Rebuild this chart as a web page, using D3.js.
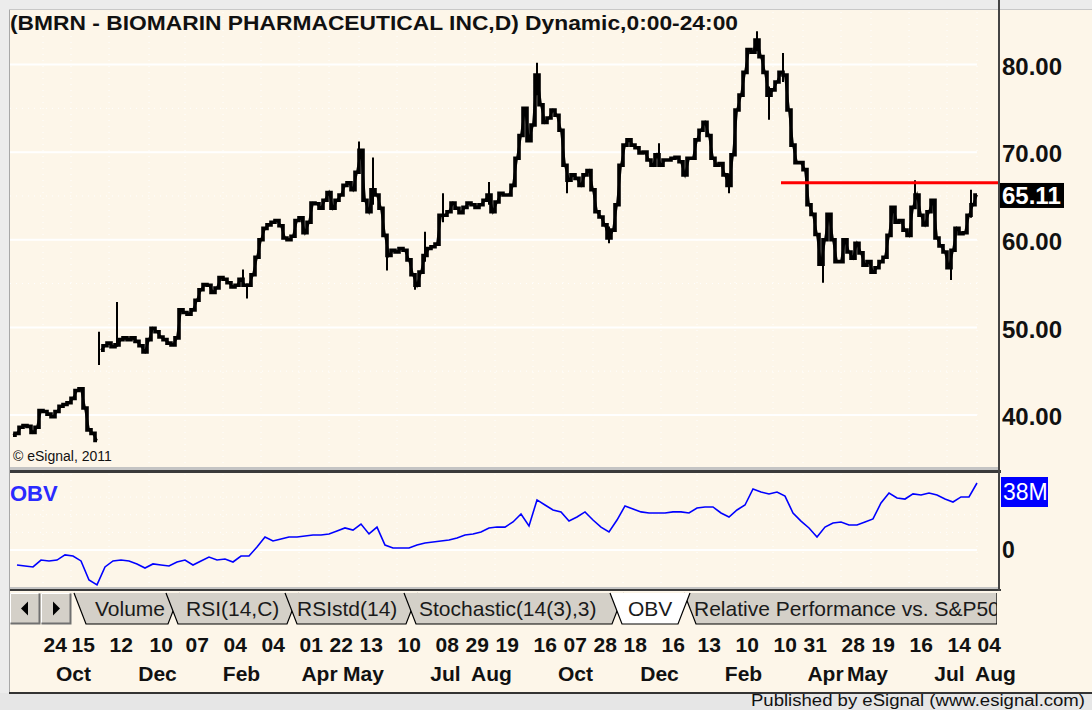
<!DOCTYPE html>
<html>
<head>
<meta charset="utf-8">
<script src="https://cdn.jsdelivr.net/npm/d3@7"></script>
<style>
html, body { margin: 0; padding: 0; background: #ececec; }
svg { display: block; font-family: "Liberation Sans", Arial, sans-serif; }
</style>
</head>
<body>
<svg id="chart" width="1092" height="710"></svg>
<script>
// ---- data ----
// closing prices, one for every second bar (bars 1,3,5 ... 483)
var priceCloses = [
  37.7, 37.9, 38.6, 38.8, 38.7, 38.0, 38.6, 40.5, 40.4, 40.1, 39.8, 40.4, 41.0, 41.2, 41.4, 41.9, 42.8, 43.0, 40.8, 38.3, 37.9, 37.1,
  47.4, 47.9, 48.2, 47.8, 48.0, 48.6, 48.8, 48.6, 48.8, 48.4, 47.9, 47.2, 48.6, 49.9, 49.5, 48.9, 48.6, 48.2, 48.0, 48.8,
  52.0, 51.7, 51.5, 52.0, 53.1, 54.3, 54.9, 54.8, 54.0, 54.5, 55.7, 55.5, 55.1, 54.6, 54.8, 55.5, 54.8, 54.8, 56.0, 58.0,
  60.0, 61.3, 61.7, 62.0, 62.2, 61.6, 60.2, 60.0, 60.4, 62.2, 62.5, 60.8, 62.0, 64.2, 64.1, 63.6, 64.5, 65.4, 63.6, 64.5,
  65.1, 66.2, 66.5, 65.7, 67.7, 70.2, 64.5, 63.2, 65.7, 65.1, 63.6, 60.5, 58.2, 58.8, 58.6, 59.0, 58.8, 57.7, 56.0, 54.8,
  56.3, 58.2, 59.0, 59.2, 59.5, 62.8, 62.8, 63.2, 64.2, 63.6, 63.1, 63.7, 64.2, 64.0, 63.7, 64.0, 64.5, 65.1, 63.2, 64.3,
  65.3, 65.1, 65.1, 66.2, 69.3, 71.9, 75.0, 71.3, 73.1, 78.8, 75.4, 73.4, 73.9, 74.8, 74.2, 72.5, 68.5, 66.8, 67.4, 67.0,
  66.2, 67.4, 67.9, 65.7, 63.2, 62.6, 61.7, 60.2, 61.1, 64.0, 68.5, 70.8, 71.4, 70.8, 70.5, 69.9, 70.0, 69.1, 68.5, 69.7,
  68.5, 69.1, 69.1, 69.3, 69.4, 68.9, 67.4, 69.3, 69.3, 71.4, 72.5, 73.4, 71.9, 69.3, 68.5, 68.7, 67.4, 66.2, 69.7, 74.8,
  76.5, 79.1, 81.7, 81.4, 82.8, 80.9, 79.1, 76.5, 77.1, 78.0, 79.1, 78.8, 74.8, 70.8, 68.8, 68.8, 68.0, 64.0, 62.9, 60.6,
  57.2, 60.0, 62.9, 60.0, 57.5, 57.5, 60.0, 58.6, 57.9, 59.6, 58.5, 57.1, 57.5, 56.3, 56.8, 57.5, 58.0, 60.5, 63.7, 62.0,
  62.2, 61.1, 60.5, 63.7, 65.1, 62.8, 61.7, 63.2, 64.5, 60.2, 59.3, 58.6, 56.8, 58.8, 61.3, 60.7, 60.8, 62.8, 64.0, 65.11
];
// single-bar ranges that stick out of the close line
var spikeBars  = [44, 53, 116, 118, 174, 181, 188, 202, 207, 216, 239, 263, 278, 299, 324, 359, 373, 379, 386, 406, 452, 470, 480];
var spikeHighs = [49.5, 52.9, 56.6, 55.0, 71.2, 69.4, 59.0, 56.0, 60.9, 65.3, 66.6, 80.2, 68.5, 61.5, 71.0, 67.5, 83.8, 77.5, 81.3, 59.0, 66.8, 57.5, 65.7];
var spikeLows  = [45.7, 47.8, 54.8, 53.3, 68.0, 64.0, 56.5, 54.3, 57.5, 62.0, 64.0, 76.5, 65.3, 59.6, 68.5, 65.3, 81.5, 73.7, 78.0, 55.1, 64.0, 55.4, 62.5];

// on balance volume in millions, one for every fourth bar (bars 3,7,11 ... 483)
var obvValues = [
  -8.5, -9.1, -9.6, -5.7, -6.2, -5.7, -2.8, -3.4, -6.2, -17.0,
  -19.8, -9.6, -6.2, -5.7, -6.2, -7.9, -10.2, -7.9, -8.5, -9.1,
  -6.8, -5.7, -8.5, -6.2, -4.0, -5.7, -5.1, -6.8, -3.4, -3.4,
  1.7, 7.4, 5.1, 6.2, 7.4, 7.4, 7.9, 8.5, 8.5, 9.1,
  10.8, 12.5, 11.3, 14.7, 9.1, 13.0, 2.8, 1.1, 1.1, 1.1,
  2.8, 4.0, 4.5, 5.1, 5.7, 6.8, 8.5, 9.1, 10.2, 12.5,
  13.0, 13.0, 15.9, 20.4, 13.6, 28.4, 25.5, 22.7, 21.6, 16.4,
  18.7, 21.6, 17.0, 13.0, 10.2, 17.0, 25.0, 23.3, 21.6, 21.0,
  21.0, 21.0, 21.6, 21.6, 21.0, 23.8, 24.4, 24.4, 21.0, 18.7,
  22.7, 25.5, 34.6, 32.9, 31.8, 32.9, 30.6, 21.0, 16.4, 12.5,
  7.4, 13.0, 15.3, 15.9, 14.2, 14.2, 15.9, 17.6, 26.7, 32.3,
  29.5, 28.9, 31.8, 31.2, 32.3, 31.2, 28.9, 27.2, 30.1, 30.1,
  38.0
];

// date axis: bar number of each weekly tick and of the mid-month names
var tickBars   = [16, 30, 49, 69, 87, 106, 125, 144, 159, 174, 193, 212, 227, 242, 261, 276, 291, 306, 325, 343, 362, 381, 396, 415, 430, 449, 468, 483];
var tickLabels = ["24", "15", "12", "10", "07", "04", "04", "01", "22", "13", "10", "08", "29", "19", "16", "07", "28", "18", "16", "13", "10", "10", "31", "28", "19", "16", "14", "04"];
var monthBars   = [31, 73, 115, 154, 176, 217, 240, 282, 324, 366, 407, 428, 469, 492];
var monthLabels = ["Oct", "Dec", "Feb", "Apr", "May", "Jul", "Aug", "Oct", "Dec", "Feb", "Apr", "May", "Jul", "Aug"];

var priceTicks = [40, 50, 60, 70, 80];
var lastPrice = 65.11;
var resistanceLevel = 66.5;
var resistanceStartBar = 385;
var obvTicks = [0];
var obvLast = 38;
var tabNames = ["Volume", "RSI(14,C)", "RSIstd(14)", "Stochastic(14(3),3)", "OBV", "Relative Performance vs. S&P500"];
var activeTab = 4;

// ---- layout ----
var svg = d3.select("#chart");
var cream = "#fdf6e9";
var axisX = 999;

var x = d3.scaleLinear().domain([0, 483]).range([11, 977]);
var yPrice = d3.scaleLinear().domain([40, 80]).range([415, 64.5]);
var yObv = d3.scaleLinear().domain([0, 38]).range([550, 483]);

// background
svg.append("rect").attr("x", 9).attr("y", 9).attr("width", 1083).attr("height", 684).attr("fill", cream);
svg.append("line").attr("x1", 9.5).attr("x2", 9.5).attr("y1", 9).attr("y2", 693).attr("stroke", "#a8a8a8");
svg.append("line").attr("x1", 9).attr("x2", 1092).attr("y1", 9.5).attr("y2", 9.5).attr("stroke", "#c8c8c8");
svg.append("rect").attr("x", 0).attr("y", 693).attr("width", 1092).attr("height", 17).attr("fill", "#e6e6e6");
svg.append("line").attr("x1", 9).attr("x2", 1092).attr("y1", 693).attr("y2", 693).attr("stroke", "#333").attr("stroke-width", 2);
svg.append("text").attr("x", 751).attr("y", 706)
  .attr("font-size", 16).attr("fill", "#111")
  .attr("textLength", 334).attr("lengthAdjust", "spacingAndGlyphs")
  .text("Published by eSignal (www.esignal.com)");

// clip paths
var defs = svg.append("defs");
defs.append("clipPath").attr("id", "clipPrice").append("rect").attr("x", 10).attr("y", 10).attr("width", axisX - 10).attr("height", 457);
defs.append("clipPath").attr("id", "clipObv").append("rect").attr("x", 10).attr("y", 473).attr("width", axisX - 10).attr("height", 114);

// ---- price pane ----
var pricePane = svg.append("g").attr("clip-path", "url(#clipPrice)");

// dotted grid
tickBars.forEach(function (b) {
  pricePane.append("line").attr("x1", x(b)).attr("x2", x(b)).attr("y1", 12).attr("y2", 466)
    .attr("stroke", "#ffffff").attr("stroke-dasharray", "1,5");
});
[45, 55, 65, 75].forEach(function (v) {
  pricePane.append("line").attr("x1", 10).attr("x2", x(483)).attr("y1", yPrice(v)).attr("y2", yPrice(v))
    .attr("stroke", "#ffffff").attr("stroke-dasharray", "1,5");
});
// solid grid
pricePane.selectAll(".hgrid").data(priceTicks).enter().append("line")
  .attr("x1", 10).attr("x2", x(483))
  .attr("y1", function (d) { return yPrice(d); }).attr("y2", function (d) { return yPrice(d); })
  .attr("stroke", "#ffffff").attr("stroke-width", 2);

// spikes
pricePane.selectAll(".spike").data(spikeBars).enter().append("line")
  .attr("x1", function (d) { return x(d); }).attr("x2", function (d) { return x(d); })
  .attr("y1", function (d, i) { return yPrice(spikeHighs[i]); })
  .attr("y2", function (d, i) { return yPrice(spikeLows[i]); })
  .attr("stroke", "#000").attr("stroke-width", 2);

// close line drawn as a blocky band, split at the gap up
var before = priceCloses.slice(0, 22), after = priceCloses.slice(22);
function closePath(startBar) {
  return d3.line()
    .x(function (d, i) { return x(startBar + 2 * i); })
    .y(function (d) { return yPrice(d); })
    .curve(d3.curveStep);
}
[[before, 1], [after, 45]].forEach(function (part) {
  pricePane.append("path").datum(part[0])
    .attr("d", closePath(part[1]))
    .attr("fill", "none").attr("stroke", "#000").attr("stroke-width", 3.6)
    .attr("stroke-linejoin", "miter");
  pricePane.append("path").datum(part[0])
    .attr("d", d3.line().x(function (d, i) { return x(part[1] + 2 * i); }).y(function (d) { return yPrice(d); }))
    .attr("fill", "none").attr("stroke", "#000").attr("stroke-width", 2);
});

// red line
pricePane.append("line")
  .attr("x1", x(resistanceStartBar)).attr("x2", axisX)
  .attr("y1", yPrice(resistanceLevel)).attr("y2", yPrice(resistanceLevel))
  .attr("stroke", "#ff0000").attr("stroke-width", 3);

// title + copyright
svg.append("text").attr("x", 10).attr("y", 30)
  .attr("font-size", 20).attr("font-weight", "bold").attr("fill", "#111")
  .attr("textLength", 728).attr("lengthAdjust", "spacingAndGlyphs")
  .text("(BMRN - BIOMARIN PHARMACEUTICAL INC,D) Dynamic,0:00-24:00");
svg.append("text").attr("x", 13).attr("y", 461).attr("font-size", 14).attr("fill", "#111")
  .text("\u00a9 eSignal, 2011");

// price axis
var priceAxis = svg.append("g").attr("transform", "translate(" + axisX + ",2)")
  .call(d3.axisRight(yPrice).tickValues(priceTicks).tickFormat(d3.format(".2f")).tickSize(0).tickPadding(3));
priceAxis.select(".domain").remove();
priceAxis.selectAll("text").attr("font-size", 24).attr("font-weight", "bold").attr("fill", "#111")
  .attr("font-family", "Liberation Sans, Arial, sans-serif");

// last price box
var lastY = yPrice(lastPrice);
svg.append("rect").attr("x", 1000).attr("y", lastY - 12).attr("width", 64).attr("height", 25).attr("fill", "#000");
svg.append("text").attr("x", 1002).attr("y", lastY + 9).attr("font-size", 24).attr("font-weight", "bold")
  .attr("fill", "#fff").text(lastPrice.toFixed(2));

// pane splitter
svg.append("rect").attr("x", 10).attr("y", 467).attr("width", axisX - 10).attr("height", 3).attr("fill", "#c4c4c4");
svg.append("rect").attr("x", 10).attr("y", 470).attr("width", axisX - 8).attr("height", 3).attr("fill", "#3a3a3a");

// ---- OBV pane ----
var obvPane = svg.append("g").attr("clip-path", "url(#clipObv)");
tickBars.forEach(function (b) {
  obvPane.append("line").attr("x1", x(b)).attr("x2", x(b)).attr("y1", 474).attr("y2", 586)
    .attr("stroke", "#ffffff").attr("stroke-dasharray", "1,5");
});
[10, 20, 30].forEach(function (v) {
  obvPane.append("line").attr("x1", 10).attr("x2", x(483)).attr("y1", yObv(v)).attr("y2", yObv(v))
    .attr("stroke", "#ffffff").attr("stroke-dasharray", "1,5");
});
obvPane.selectAll(".ogrid").data(obvTicks).enter().append("line")
  .attr("x1", 10).attr("x2", x(483))
  .attr("y1", function (d) { return yObv(d); }).attr("y2", function (d) { return yObv(d); })
  .attr("stroke", "#ffffff").attr("stroke-width", 2);
obvPane.append("path").datum(obvValues)
  .attr("d", d3.line().x(function (d, i) { return x(3 + 4 * i); }).y(function (d) { return yObv(d); }))
  .attr("fill", "none").attr("stroke", "#0000ff").attr("stroke-width", 1.6);
svg.append("text").attr("x", 10).attr("y", 501).attr("font-size", 22).attr("font-weight", "bold")
  .attr("fill", "#2a2aff").text("OBV");

var obvAxis = svg.append("g").attr("transform", "translate(" + axisX + ",0)")
  .call(d3.axisRight(yObv).tickValues(obvTicks).tickFormat(d3.format("d")).tickSize(0).tickPadding(3));
obvAxis.select(".domain").remove();
obvAxis.selectAll("text").attr("font-size", 23).attr("font-weight", "bold").attr("fill", "#111")
  .attr("font-family", "Liberation Sans, Arial, sans-serif");
var obvY = yObv(obvLast);
svg.append("rect").attr("x", 1001).attr("y", obvY - 6).attr("width", 47).attr("height", 30).attr("fill", "#0000ff");
svg.append("text").attr("x", 1003).attr("y", obvY + 17).attr("font-size", 23).attr("fill", "#fff").text(obvLast + "M");

// bottom border of OBV pane
svg.append("rect").attr("x", 10).attr("y", 587).attr("width", axisX - 10).attr("height", 2).attr("fill", "#c4c4c4");
svg.append("rect").attr("x", 10).attr("y", 589).attr("width", axisX - 8).attr("height", 2).attr("fill", "#3a3a3a");
// right axis line
svg.append("line").attr("x1", axisX).attr("x2", axisX).attr("y1", 0).attr("y2", 591)
  .attr("stroke", "#444").attr("stroke-width", 2);

// ---- tab strip ----
var tabTop = 593, tabBot = 624;
function button(x0, dir) {
  var g = svg.append("g");
  g.append("rect").attr("x", x0).attr("y", tabTop).attr("width", 30).attr("height", tabBot - tabTop).attr("fill", "#d4d0c8");
  g.append("path").attr("d", "M" + (x0 + 0.5) + "," + (tabBot - 0.5) + "V" + (tabTop + 0.5) + "H" + (x0 + 29.5))
    .attr("fill", "none").attr("stroke", "#fff");
  g.append("path").attr("d", "M" + (x0 + 0.5) + "," + (tabBot - 0.5) + "H" + (x0 + 29.5) + "V" + (tabTop + 0.5))
    .attr("fill", "none").attr("stroke", "#707070").attr("stroke-width", 2);
  var cx = x0 + 15, cy = (tabTop + tabBot) / 2;
  var tri = dir < 0 ? [[cx - 4, cy], [cx + 3, cy - 7], [cx + 3, cy + 7]] : [[cx + 4, cy], [cx - 3, cy - 7], [cx - 3, cy + 7]];
  g.append("path").attr("d", d3.line()(tri) + "Z").attr("fill", "#000");
}
button(10, -1);
button(41, 1);

var tabLefts = [74, 166, 285, 404, 610, 678];
var tabTextX = [95, 186, 297, 419, 628, 694];
var tabRightEdge = 997;
var slant = 12;
function tabPath(l, r, rightCut) {
  var pts = [[l, tabTop], [l + slant, tabBot], [rightCut ? r : r - slant, tabBot], [r, tabTop]];
  return d3.line()(pts);
}
var tabG = svg.append("g");
var order = [];
for (var i = 0; i < activeTab; i++) order.push(i);
for (var j = tabNames.length - 1; j > activeTab; j--) order.push(j);
order.push(activeTab);
order.forEach(function (i) {
  var l = tabLefts[i];
  var r = i === tabNames.length - 1 ? tabRightEdge : (i === activeTab ? 690 : tabLefts[i + 1] + slant + 2);
  var isActive = i === activeTab;
  var isLast = i === tabNames.length - 1;
  var leftX = (i > activeTab) ? 684 : l;
  tabG.append("path").attr("d", tabPath(leftX, r, isLast))
    .attr("fill", isActive ? "#ffffff" : "#d4d0c8").attr("stroke", "#000").attr("stroke-width", 1.2);
});
tabG.selectAll(".tabtext").data(tabNames).enter().append("text")
  .attr("x", function (d, i) { return tabTextX[i]; })
  .attr("y", 616).attr("font-size", 21).attr("fill", "#1a1a1a")
  .text(function (d) { return d; });
defs.append("clipPath").attr("id", "clipTabs").append("rect").attr("x", 0).attr("y", 590).attr("width", 997).attr("height", 40);
tabG.attr("clip-path", "url(#clipTabs)");

// ---- date axis ----
var dateAxis = svg.append("g").attr("transform", "translate(0,636)")
  .call(d3.axisBottom(x).tickValues(tickBars).tickFormat(function (d, i) { return tickLabels[i]; }).tickSize(0).tickPadding(0));
dateAxis.select(".domain").remove();
dateAxis.selectAll("text").attr("text-anchor", "start").attr("y", 16).attr("dy", null)
  .attr("font-size", 21).attr("font-weight", "bold").attr("fill", "#111")
  .attr("font-family", "Liberation Sans, Arial, sans-serif");

var monthAxis = svg.append("g").attr("transform", "translate(0,665)")
  .call(d3.axisBottom(x).tickValues(monthBars).tickFormat(function (d, i) { return monthLabels[i]; }).tickSize(0).tickPadding(0));
monthAxis.select(".domain").remove();
monthAxis.selectAll("text").attr("text-anchor", "middle").attr("y", 16).attr("dy", null)
  .attr("font-size", 21).attr("font-weight", "bold").attr("fill", "#111")
  .attr("font-family", "Liberation Sans, Arial, sans-serif");
</script>
</body>
</html>
